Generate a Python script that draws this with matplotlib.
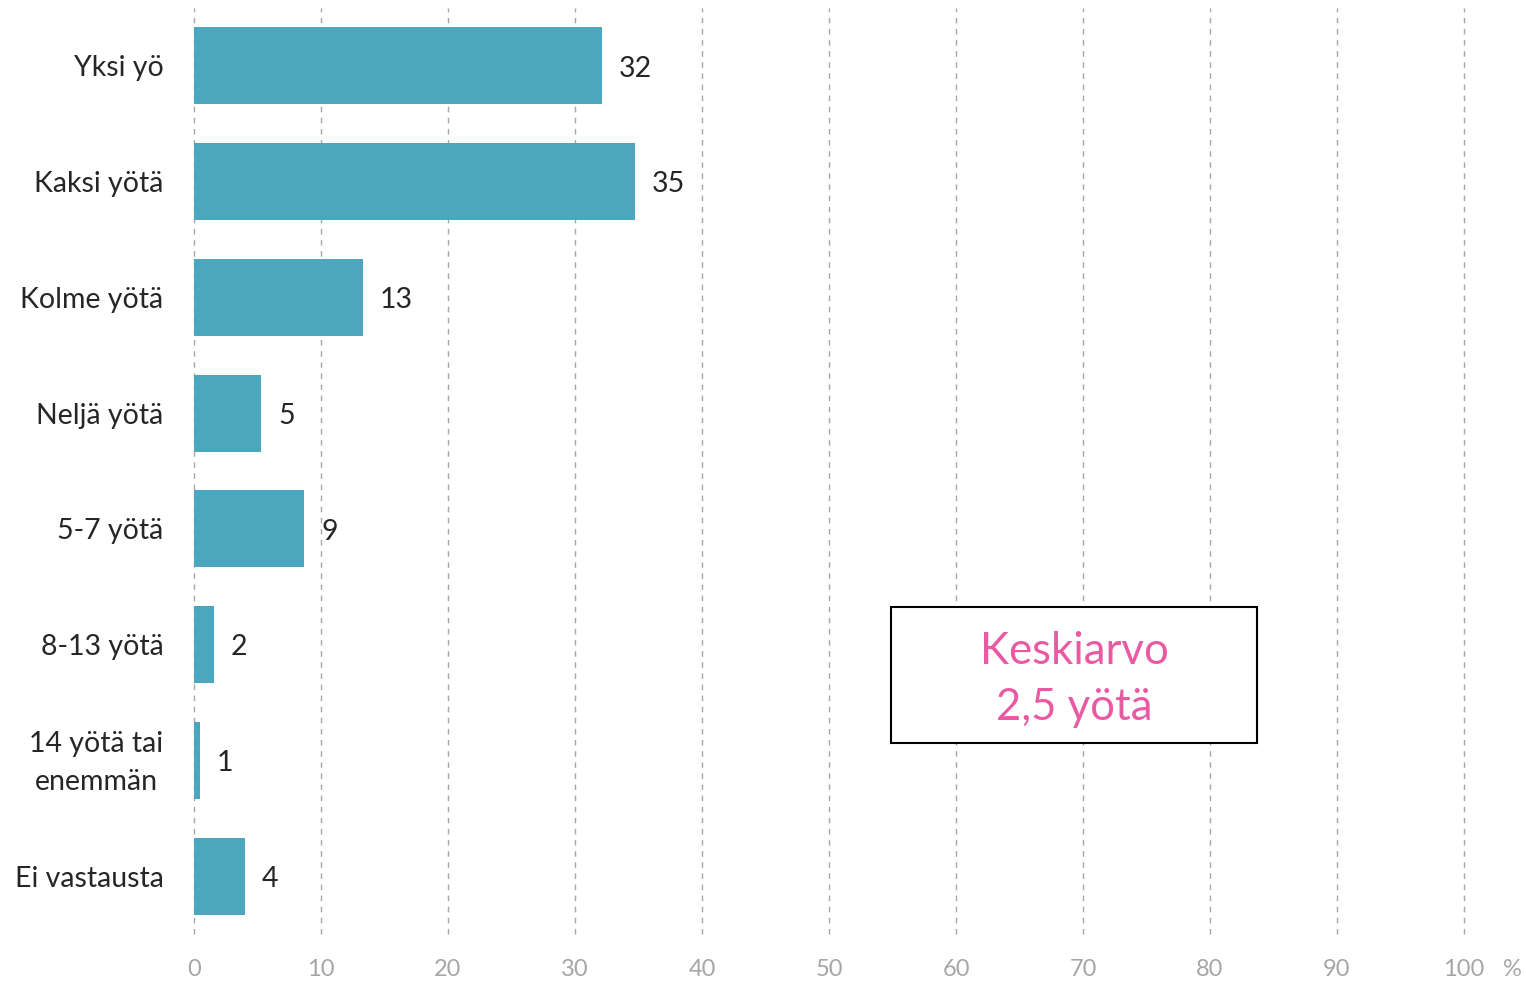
import matplotlib
matplotlib.use("Agg")
import matplotlib.pyplot as plt
from matplotlib.patches import Rectangle
from matplotlib.transforms import ScaledTranslation

categories = ["Yksi yö", "Kaksi yötä", "Kolme yötä", "Neljä yötä", "5-7 yötä",
              "8-13 yötä", "14 yötä tai\nenemmän", "Ei vastausta"]
values = [32.1, 34.7, 13.3, 5.3, 8.7, 1.6, 0.5, 4.0]
value_labels = ["32", "35", "13", "5", "9", "2", "1", "4"]
x_ticks = [0, 10, 20, 30, 40, 50, 60, 70, 80, 90, 100]
box_text = "Keskiarvo\n2,5 yötä"

FONT = ["Lato", "DejaVu Sans"]
plt.rcParams['font.family'] = FONT

fig = plt.figure(figsize=(15.26, 9.83), dpi=100)
ax = fig.add_axes([194/1526, 1-934/983, (1464-194)/1526, (934-8)/983])

ypos = list(range(len(categories)))
ax.barh(ypos, values, height=0.665, color="#4BA7BE", zorder=2)
for y, v, lab in zip(ypos, values, value_labels):
    ax.annotate(lab, (v, y), xytext=(12, -2), textcoords="offset points",
                ha="left", va="center", fontsize=20.5, color="#262626")

ax.set_xlim(0, 100)
ax.set_ylim(len(categories) - 0.5, -0.5)
ax.set_xticks(x_ticks)
ax.set_xticklabels([str(t) for t in x_ticks])
ax.set_yticks(ypos)
ax.set_yticklabels(categories, multialignment="center", linespacing=1.6)
ax.tick_params(axis="x", length=0, pad=18, labelsize=17, labelcolor="#A6A6A6")
ax.tick_params(axis="y", length=0, pad=22, labelsize=20.5, labelcolor="#262626")
for lbl in ax.get_yticklabels():
    if "\n" in lbl.get_text():
        lbl.set_transform(lbl.get_transform() + ScaledTranslation(0, 6/100, fig.dpi_scale_trans))
for s in ax.spines.values():
    s.set_visible(False)
ax.grid(axis="x", linestyle=(0, (4, 4)), color="#A6A6A6", linewidth=1.0, zorder=0)
ax.grid(axis="y", visible=False)
ax.set_axisbelow(True)
for gl in ax.get_xgridlines():
    gl.set_clip_on(False)

ax.text(1.0 + 48/1270, -36/926, "%", transform=ax.transAxes, ha="center", va="center",
        fontsize=17, color="#A6A6A6")

rect = Rectangle((54.9, 4.675), 83.7 - 54.9, 5.85 - 4.675, fill=True, facecolor="white",
                 edgecolor="black", linewidth=1.5, zorder=3, clip_on=False)
ax.add_patch(rect)
ax.annotate(box_text, ((54.9 + 83.7) / 2, (4.675 + 5.85) / 2), xytext=(0, -3),
            textcoords="offset points", ha="center", va="center",
            fontsize=31.5, color="#E95AA3", linespacing=1.45, zorder=4)

fig.savefig("out.png", dpi=100)
